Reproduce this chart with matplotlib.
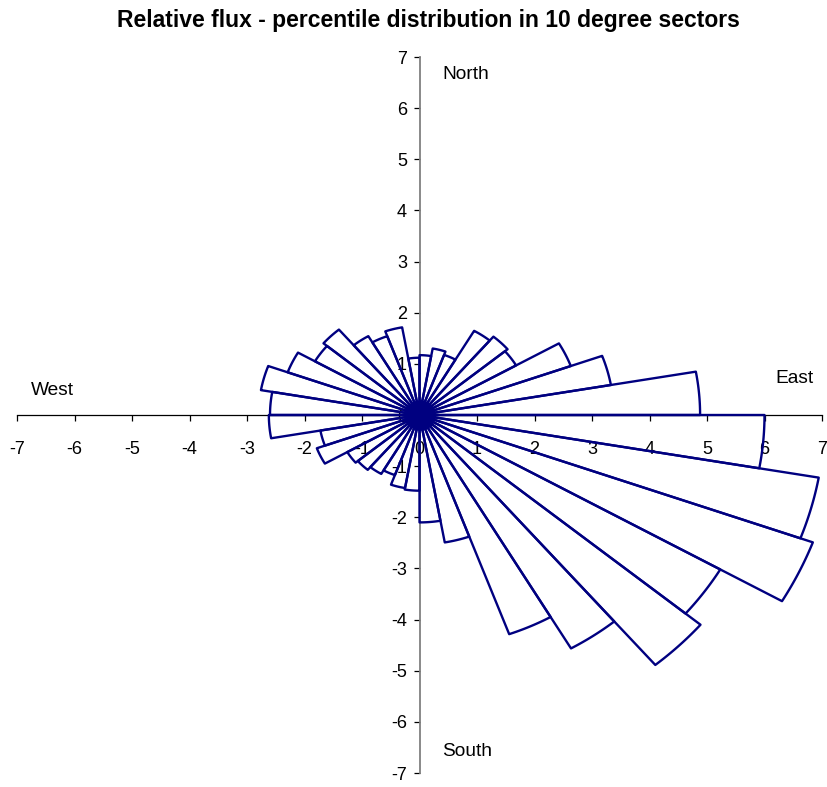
import numpy as np
import matplotlib
matplotlib.use("Agg")
import matplotlib.pyplot as plt

plt.rcParams['font.family'] = ['Liberation Sans', 'DejaVu Sans']
plt.rcParams['axes.unicode_minus'] = False

# Sector start bearings (degrees clockwise from North), 10-degree sectors
sector_start = list(range(0, 360, 10))
# Relative flux (radius) per sector
flux = [1.17, 1.32, 1.25, 1.90, 2.00, 1.94, 2.80, 3.38, 4.88,
        6.00, 7.05, 7.28, 6.04, 6.38, 5.27, 4.56, 2.53, 2.10,
        1.48, 1.45, 1.25, 1.33, 1.40, 1.45, 1.90, 1.75, 2.62,
        2.60, 2.80, 2.44, 2.10, 2.18, 1.78, 1.64, 1.74, 1.12]
sector_width = 10
ticks = list(range(-7, 8))
title = "Relative flux - percentile distribution in 10 degree sectors"
compass = {"North": (0.4, 6.65), "South": (0.4, -6.58),
           "West": (-6.75, 0.47), "East": (6.19, 0.72)}

navy = '#000080'
W, H = 827, 787
fig = plt.figure(figsize=(W / 100, H / 100), dpi=100)
ax = fig.add_axes([17 / W, 1 - 773 / H, 805 / W, 716 / H])
ax.set_xlim(-7, 7)
ax.set_ylim(-7, 7)

for b0, r in zip(sector_start, flux):
    b = np.radians(np.linspace(b0, b0 + sector_width, 20))
    xs = np.concatenate([[0], r * np.sin(b), [0]])
    ys = np.concatenate([[0], r * np.cos(b), [0]])
    ax.plot(xs, ys, color=navy, lw=1.7, solid_joinstyle='round', zorder=3)

ax.plot([0], [0], 'o', color=navy, ms=21, zorder=4)

for s in ['top', 'right']:
    ax.spines[s].set_visible(False)
ax.spines['left'].set_position(('data', 0))
ax.spines['bottom'].set_position(('data', 0))
ax.spines['left'].set_color('#808080')
ax.spines['left'].set_linewidth(1.3)
ax.spines['bottom'].set_color('black')
ax.spines['bottom'].set_linewidth(0.9)
ax.set_xticks(ticks)
ax.set_yticks(ticks)
ax.set_xticklabels([str(t) for t in ticks])
ax.set_yticklabels([str(t) for t in ticks])
ax.tick_params(axis='x', direction='out', length=4, width=0.9, pad=15, labelsize=13)
ax.tick_params(axis='y', direction='out', length=4, width=0.9, pad=5, labelsize=13)
ax.set_facecolor('none')

for name, (x, y) in compass.items():
    ax.text(x, y, name, fontsize=13.8, ha='left', va='center', color='black')

fig.text(428 / W, 1 - 20 / H, title, fontsize=16.5, fontweight='bold',
         ha='center', va='center')

fig.savefig('out.png', dpi=100, facecolor='white')
